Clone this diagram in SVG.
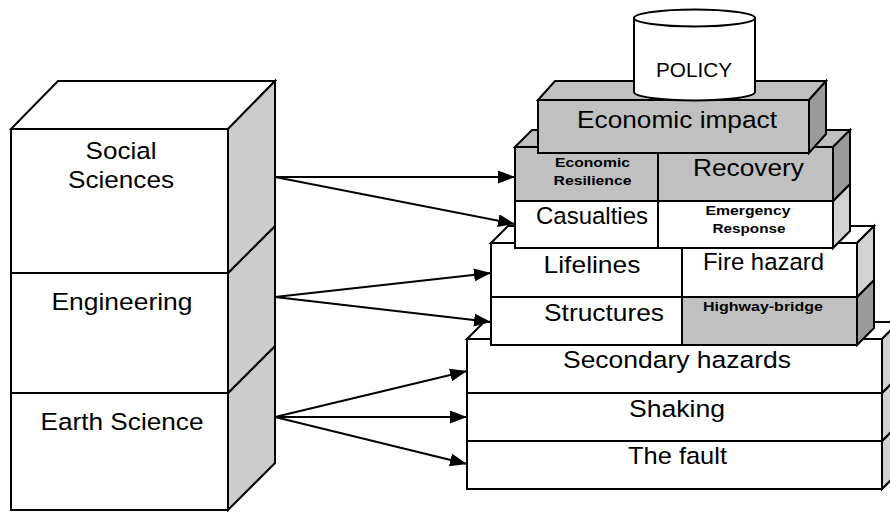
<svg xmlns="http://www.w3.org/2000/svg" width="890" height="512" viewBox="0 0 890 512">
<style>
.f{stroke:#000;stroke-width:2;stroke-linejoin:miter}
.w{fill:#fff}.g{fill:#c0c0c0}.d{fill:#9a9a9a}.l{fill:#d2d2d2}.s{fill:#cccccc}
text{font-family:"Liberation Sans",Arial,sans-serif;fill:#000}
.t{font-size:24.5px;text-anchor:middle}
.b{font-size:13.5px;font-weight:bold;text-anchor:middle}
.c{stroke:#000;stroke-width:2;fill:none;marker-end:url(#ah)}
</style>
<defs>
<marker id="ah" markerUnits="userSpaceOnUse" markerWidth="17" markerHeight="13" refX="17" refY="6.5" orient="auto"><path d="M0,0 L17,6.5 L0,13 z" fill="#000"/></marker>
</defs>
<rect width="890" height="512" fill="#fff"/>

<!-- left stack -->
<g id="earth-science">
<polygon class="f s" points="228,393 275,346 275,463 228,510"/>
<rect class="f w" x="11" y="393" width="217" height="117"/>
<text class="t" x="122" y="430" textLength="163" lengthAdjust="spacingAndGlyphs">Earth Science</text>
</g>
<g id="engineering">
<polygon class="f s" points="228,273 275,226 275,346 228,393"/>
<rect class="f w" x="11" y="273" width="217" height="120"/>
<text class="t" x="122" y="310" textLength="141" lengthAdjust="spacingAndGlyphs">Engineering</text>
</g>
<g id="social-sciences">
<polygon class="f w" points="11,129 58,81 275,81 228,129"/>
<polygon class="f s" points="228,129 275,81 275,226 228,273"/>
<rect class="f w" x="11" y="129" width="217" height="144"/>
<text class="t" x="121" y="159" textLength="71" lengthAdjust="spacingAndGlyphs">Social</text>
<text class="t" x="121" y="188" textLength="106" lengthAdjust="spacingAndGlyphs">Sciences</text>
</g>

<!-- right stack -->
<g id="the-fault">
<polygon class="f l" points="882,441 899,424 899,472 882,489"/>
<rect class="f w" x="467" y="441" width="415" height="48"/>
<text class="t" x="677.5" y="464" textLength="99" lengthAdjust="spacingAndGlyphs">The fault</text>
</g>
<g id="shaking">
<polygon class="f l" points="882,393 899,376 899,424 882,441"/>
<rect class="f w" x="467" y="393" width="415" height="48"/>
<text class="t" x="677" y="417" textLength="96" lengthAdjust="spacingAndGlyphs">Shaking</text>
</g>
<g id="secondary-hazards">
<polygon class="f w" points="467,339 484,322 899,322 882,339"/>
<polygon class="f l" points="882,339 899,322 899,376 882,393"/>
<rect class="f w" x="467" y="339" width="415" height="54"/>
<text class="t" x="677" y="368" textLength="228" lengthAdjust="spacingAndGlyphs">Secondary hazards</text>
</g>
<g id="structures-row">
<polygon class="f d" points="857,297 874,280 874,328 857,345"/>
<rect class="f w" x="491" y="297" width="191" height="48"/>
<rect class="f g" x="682" y="297" width="175" height="48"/>
<text class="t" x="604" y="321" textLength="120" lengthAdjust="spacingAndGlyphs">Structures</text>
<text class="b" x="763" y="311" textLength="120" lengthAdjust="spacingAndGlyphs">Highway-bridge</text>
</g>
<g id="lifelines-row">
<polygon class="f w" points="491,243 508,226 874,226 857,243"/>
<polygon class="f l" points="857,243 874,226 874,280 857,297"/>
<rect class="f w" x="491" y="243" width="191" height="54"/>
<rect class="f w" x="682" y="243" width="175" height="54"/>
<text class="t" x="592" y="273" textLength="97" lengthAdjust="spacingAndGlyphs">Lifelines</text>
<text class="t" x="763.5" y="270" textLength="121" lengthAdjust="spacingAndGlyphs">Fire hazard</text>
</g>
<g id="casualties-row">
<polygon class="f l" points="833,201 850,184 850,231 833,248"/>
<rect class="f w" x="515" y="201" width="143" height="47"/>
<rect class="f w" x="658" y="201" width="175" height="47"/>
<text class="t" x="592" y="224" textLength="112" lengthAdjust="spacingAndGlyphs">Casualties</text>
<text class="b" x="748" y="215" textLength="85" lengthAdjust="spacingAndGlyphs">Emergency</text>
<text class="b" x="749" y="233" textLength="73" lengthAdjust="spacingAndGlyphs">Response</text>
</g>
<g id="resilience-row">
<polygon class="f g" points="515,147 532,130 850,130 833,147"/>
<polygon class="f d" points="833,147 850,130 850,184 833,201"/>
<rect class="f g" x="515" y="147" width="143" height="54"/>
<rect class="f g" x="658" y="147" width="175" height="54"/>
<text class="b" x="592.5" y="167" textLength="75" lengthAdjust="spacingAndGlyphs">Economic</text>
<text class="b" x="592.5" y="185" textLength="78" lengthAdjust="spacingAndGlyphs">Resilience</text>
<text class="t" x="748.5" y="176" textLength="111" lengthAdjust="spacingAndGlyphs">Recovery</text>
</g>
<g id="economic-impact">
<polygon class="f g" points="538,100 555,81 826,81 809,100"/>
<polygon class="f d" points="809,100 826,81 826,134 809,153"/>
<rect class="f g" x="538" y="100" width="271" height="53"/>
<text class="t" x="677" y="128" textLength="200" lengthAdjust="spacingAndGlyphs">Economic impact</text>
</g>
<g id="policy">
<path class="f w" d="M634,18 L634,92 A60.5,8.5 0 0 0 755,92 L755,18 Z"/>
<ellipse class="f w" cx="694.5" cy="18" rx="60.5" ry="8.5"/>
<text x="694" y="77" font-size="20" text-anchor="middle" textLength="76" lengthAdjust="spacingAndGlyphs">POLICY</text>
</g>

<g id="connectors">
<path class="c" d="M275,177 L515,177"/>
<path class="c" d="M275,177 L515,224"/>
<path class="c" d="M275,297 L491,273"/>
<path class="c" d="M275,297 L491,322"/>
<path class="c" d="M275,417 L467,371"/>
<path class="c" d="M275,417 L467,417"/>
<path class="c" d="M275,417 L467,464"/>
</g>
</svg>
